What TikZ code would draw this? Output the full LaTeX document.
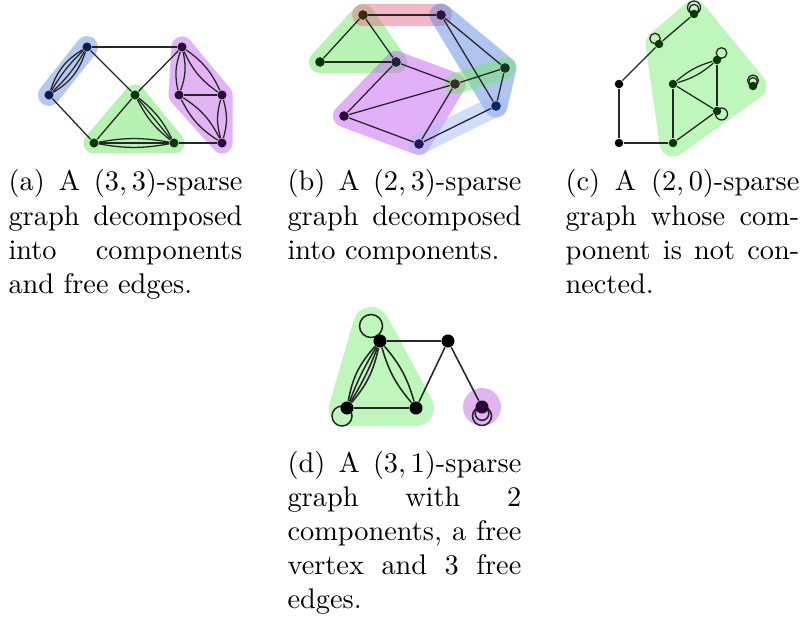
\documentclass[tikz,border=0pt]{standalone}
\usetikzlibrary{calc}
\definecolor{hlblueA}{RGB}{180,200,242}
\definecolor{hlgreenA}{RGB}{182,242,178}
\definecolor{hlpurpA}{RGB}{226,180,246}
\definecolor{nblue}{RGB}{12,28,72}
\definecolor{ngreen}{RGB}{8,56,8}
\definecolor{npurp}{RGB}{40,8,60}
\definecolor{bgreen}{RGB}{112,232,104}
\definecolor{bred}{RGB}{229,110,138}
\definecolor{bblue}{RGB}{98,138,226}
\definecolor{bpurp}{RGB}{198,98,242}
\definecolor{blight}{RGB}{165,188,246}
\definecolor{hlgreenC}{RGB}{190,246,188}
\definecolor{hlpurpD}{RGB}{226,180,244}
\pgfdeclarelayer{hlayer}
\pgfdeclarelayer{elayer}
\pgfsetlayers{hlayer,elayer,main}
\begin{document}
\begin{tikzpicture}[x=0.3529pt,y=-0.3529pt,
  vx/.style={circle,inner sep=0pt,minimum size=#1},
  ed/.style={draw=black!85,line width=0.45pt},
  hl/.style={fill=#1,draw=#1,line join=round,line cap=round},
  captxt/.style={text width=82.5pt,align=justify,inner sep=0pt,anchor=base west}]
\useasboundingbox (0,0) rectangle (809,625);

% ---------------- (a) ----------------
\node[vx=3.2pt,fill=nblue] (A1) at (87,47) {};
\node[vx=3.2pt,fill=nblue] (A2) at (49,95) {};
\node[vx=3.2pt,fill=ngreen] (Gt) at (135,95) {};
\node[vx=3.2pt,fill=ngreen] (Gl) at (94,143) {};
\node[vx=3.2pt,fill=ngreen] (Gr) at (174,143) {};
\node[vx=3.2pt,fill=npurp] (Pt) at (182,47) {};
\node[vx=3.2pt,fill=npurp] (Pl) at (179,95) {};
\node[vx=3.2pt,fill=npurp] (Pr) at (222,95) {};
\node[vx=3.2pt,fill=npurp] (Pb) at (222,143) {};
\begin{pgfonlayer}{hlayer}
  \draw[hl=hlblueA,line width=22*0.3529pt] (A1.center) -- (A2.center);
  \draw[hl=hlgreenA,line width=21*0.3529pt] (Gt.center) -- (Gl.center) -- (Gr.center) -- cycle;
  \draw[hl=hlpurpA,line width=21*0.3529pt] (Pt.center) -- (Pr.center) -- (Pb.center) -- (Pl.center) -- cycle;
\end{pgfonlayer}
\begin{pgfonlayer}{elayer}
  \draw[ed] (A1) to[bend left=8] (A2);
  \draw[ed] (A1) to[bend right=8] (A2);
  \draw[ed] (A1) to[bend left=20] (A2);
  \draw[ed] (A1) to[bend right=20] (A2);
  \draw[ed] (A1) -- (Pt);
  \draw[ed] (A1) -- (Gt);
  \draw[ed] (A2) -- (Gl);
  \draw[ed] (Gt) -- (Pt);
  \draw[ed] (Gt) -- (Gl);
  \draw[ed] (Gt) -- (Gr);
  \draw[ed] (Gt) to[bend left=12] (Gr);
  \draw[ed] (Gt) to[bend right=12] (Gr);
  \draw[ed] (Gl) -- (Gr);
  \draw[ed] (Gl) to[bend left=10] (Gr);
  \draw[ed] (Gl) to[bend right=10] (Gr);
  \draw[ed] (Gr) -- (Pb);
  \draw[ed] (Pt) to[bend left=16] (Pl);
  \draw[ed] (Pt) to[bend right=16] (Pl);
  \draw[ed] (Pt) to[bend left=15] (Pr);
  \draw[ed] (Pt) to[bend right=15] (Pr);
  \draw[ed] (Pl) -- (Pr);
  \draw[ed] (Pl) to[bend left=15] (Pb);
  \draw[ed] (Pl) to[bend right=15] (Pb);
  \draw[ed] (Pr) to[bend left=16] (Pb);
  \draw[ed] (Pr) to[bend right=16] (Pb);
\end{pgfonlayer}

% ---------------- (b) ----------------
\node[vx=3.4pt,fill={rgb,255:red,58;green,44;blue,20}] (B1) at (363,15) {};
\node[vx=3.4pt,fill={rgb,255:red,48;green,20;blue,56}] (B2) at (441,15) {};
\node[vx=3.4pt,fill={rgb,255:red,10;green,50;blue,10}] (B3) at (320,62) {};
\node[vx=3.4pt,fill={rgb,255:red,30;green,38;blue,60}] (B4) at (396,62) {};
\node[vx=3.4pt,fill={rgb,255:red,60;green,44;blue,40}] (B5) at (455,84) {};
\node[vx=3.4pt,fill={rgb,255:red,24;green,50;blue,36}] (B6) at (505,68) {};
\node[vx=3.4pt,fill={rgb,255:red,16;green,36;blue,100}] (B7) at (496,106) {};
\node[vx=3.4pt,fill={rgb,255:red,40;green,10;blue,60}] (B8) at (344,116) {};
\node[vx=3.4pt,fill={rgb,255:red,40;green,20;blue,80}] (B9) at (419,144) {};
\begin{pgfonlayer}{hlayer}
  \begin{scope}[transparency group,opacity=0.5]
    \draw[hl=bgreen,line width=22*0.3529pt] (B1.center) -- (B3.center) -- (B4.center) -- cycle;
  \end{scope}
  \begin{scope}[transparency group,opacity=0.5]
    \draw[hl=bred,line width=22*0.3529pt] (B1.center) -- (B2.center);
  \end{scope}
  \begin{scope}[transparency group,opacity=0.5]
    \draw[hl=bblue,line width=23*0.3529pt] (B2.center) -- (B6.center) -- (B7.center) -- cycle;
  \end{scope}
  \begin{scope}[transparency group,opacity=0.5]
    \draw[hl=bpurp,line width=22*0.3529pt] (B4.center) -- (B5.center) -- (B9.center) -- (B8.center) -- cycle;
  \end{scope}
  \begin{scope}[transparency group,opacity=0.5]
    \draw[hl=bgreen,line width=21*0.3529pt] (B5.center) -- (B6.center);
  \end{scope}
  \begin{scope}[transparency group,opacity=0.5]
    \draw[hl=blight,line width=21*0.3529pt] (B7.center) -- (B9.center);
  \end{scope}
\end{pgfonlayer}
\begin{pgfonlayer}{elayer}
  \draw[ed] (B1) -- (B2);
  \draw[ed] (B1) -- (B3);
  \draw[ed] (B1) -- (B4);
  \draw[ed] (B3) -- (B4);
  \draw[ed] (B2) -- (B6);
  \draw[ed] (B2) -- (B7);
  \draw[ed] (B6) -- (B7);
  \draw[ed] (B4) -- (B5);
  \draw[ed] (B4) -- (B8);
  \draw[ed] (B8) -- (B5);
  \draw[ed] (B8) -- (B9);
  \draw[ed] (B5) -- (B9);
  \draw[ed] (B5) -- (B6);
  \draw[ed] (B9) -- (B7);
\end{pgfonlayer}

% ---------------- (c) ----------------
\node[vx=3pt,fill=ngreen] (C1) at (694,14) {};
\node[vx=3pt,fill=ngreen] (C2) at (659,44) {};
\node[vx=3pt,fill=black] (C3) at (619,84) {};
\node[vx=3pt,fill=black] (C4) at (619,143) {};
\node[vx=3pt,fill=ngreen] (C5) at (673,143) {};
\node[vx=3pt,fill=ngreen] (C6) at (673,84) {};
\node[vx=3pt,fill=ngreen] (C7) at (717,60) {};
\node[vx=3pt,fill=ngreen] (C8) at (717,111) {};
\node[vx=3pt,fill=ngreen] (C9) at (753,86) {};
\begin{pgfonlayer}{hlayer}
  \draw[hl=hlgreenC,line width=27*0.3529pt] (C1.center) -- (C9.center) -- (C5.center) -- (C2.center) -- cycle;
\end{pgfonlayer}
\begin{pgfonlayer}{elayer}
  \draw[ed] (C1) -- (C2);
  \draw[ed] (C2) -- (C3);
  \draw[ed] (C3) -- (C4);
  \draw[ed] (C4) -- (C5);
  \draw[ed] (C5) -- (C6);
  \draw[ed] (C5) -- (C8);
  \draw[ed] (C6) -- (C8);
  \draw[ed] (C7) -- (C8);
  \draw[ed] (C6) to[bend left=12] (C7);
  \draw[ed] (C6) to[bend right=12] (C7);
  \draw[ed] ($(C1.center)+(0,-6.5)$) circle[radius=6.5];
  \draw[ed] ($(C1.center)+(0,-4.8)$) circle[radius=4.8];
  \draw[ed] ($(C9.center)+(0,-5.5)$) circle[radius=5.5];
  \draw[ed] ($(C9.center)+(0,-4.2)$) circle[radius=4.2];
  \draw[ed] ($(C2.center)+(-4,-5.5)$) circle[radius=5.2];
  \draw[ed] ($(C7.center)+(4.5,-7)$) circle[radius=5.3];
  \draw[ed] ($(C8.center)+(4.5,3)$) circle[radius=6];
\end{pgfonlayer}

% ---------------- (d) ----------------
\node[vx=4.6pt,fill=black] (D1) at (380,341) {};
\node[vx=4.6pt,fill=black] (D2) at (448,341) {};
\node[vx=4.6pt,fill=black] (D3) at (347,408) {};
\node[vx=4.6pt,fill=black] (D4) at (416,408) {};
\node[vx=4.6pt,fill={rgb,255:red,40;green,0;blue,50}] (D5) at (482,407) {};
\begin{pgfonlayer}{hlayer}
  \draw[hl=hlgreenC,line width=36*0.3529pt] (371,325) -- (D3.center) -- (D4.center) -- (D1.center) -- cycle;
  \fill[hlpurpD] (D5.center) circle[radius=19];
\end{pgfonlayer}
\begin{pgfonlayer}{elayer}
  \draw[ed,line width=0.55pt] (D1) -- (D2);
  \draw[ed,line width=0.55pt] (D2) -- (D4);
  \draw[ed,line width=0.55pt] (D2) -- (D5);
  \draw[ed,line width=0.55pt] (D3) -- (D4);
  \draw[ed,line width=0.55pt] (D1) to[bend right=16] (D3);
  \draw[ed,line width=0.55pt] (D1) to[bend right=5] (D3);
  \draw[ed,line width=0.55pt] (D1) to[bend left=5] (D3);
  \draw[ed,line width=0.55pt] (D1) to[bend left=14] (D3);
  \draw[ed,line width=0.55pt] (D1) to[bend left=12] (D4);
  \draw[ed,line width=0.55pt] (D1) to[bend right=12] (D4);
  \draw[ed,line width=0.55pt] (371,326) circle[radius=11.5];
  \draw[ed,line width=0.55pt] (342,416) circle[radius=10];
  \draw[ed,line width=0.55pt] ($(D5.center)+(0,9)$) circle[radius=9.5];
  \draw[ed,line width=0.55pt] ($(D5.center)+(0,6.5)$) circle[radius=6.8];
\end{pgfonlayer}

% ---------------- captions ----------------
\node[captxt] (capa) at (8,191) {(a) A $(3,3)$-sparse\linebreak graph decomposed\linebreak into components\linebreak and free edges.};
\node[captxt] (capb) at (287,191) {(b) A $(2,3)$-sparse\linebreak graph decomposed\linebreak into components.};
\node[captxt] (capc) at (565,191) {(c) A $(2,0)$-sparse\linebreak graph whose com-\linebreak ponent is not con-\linebreak nected.};
\node[captxt] (capd) at (287,472) {(d) A $(3,1)$-sparse\linebreak graph with 2\linebreak components, a free\linebreak vertex and 3 free\linebreak edges.};
\end{tikzpicture}
\end{document}
